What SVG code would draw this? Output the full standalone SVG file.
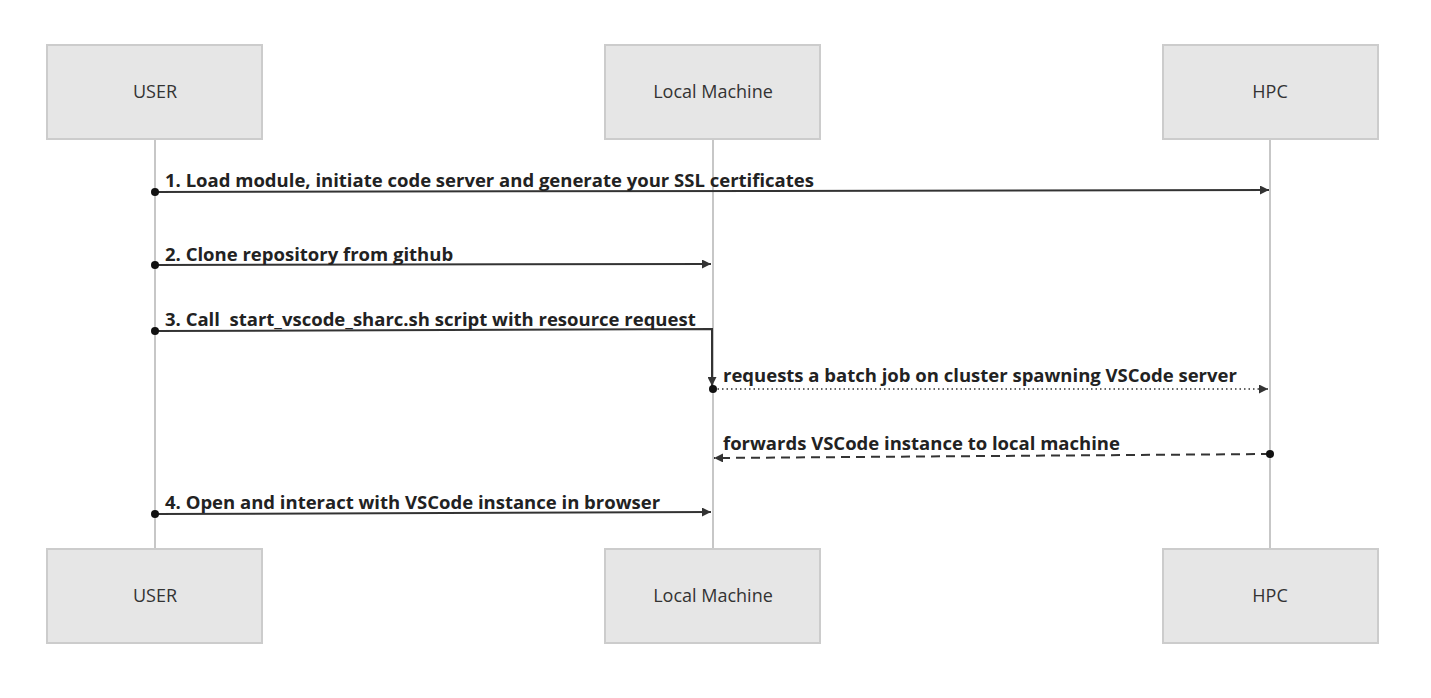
<svg xmlns="http://www.w3.org/2000/svg" width="1431" height="698" viewBox="0 0 1431 698">
<style>
.box{fill:#e6e6e6;stroke:#cccccc;stroke-width:2}
.bt{font-family:"Open Sans","Noto Sans",sans-serif;font-size:18px;fill:#333;text-anchor:middle}
.life{stroke:#8f8f8f;stroke-width:1;fill:none}
.msg{stroke:#333;stroke-width:2;fill:none}
.lbl{font-family:"Open Sans","Noto Sans",sans-serif;font-size:18.5px;font-weight:bold;fill:#222;white-space:pre}
</style>
<defs>
<marker id="arr1" viewBox="0 0 10 10" refX="10" refY="5" markerWidth="9" markerHeight="9" orient="auto" markerUnits="userSpaceOnUse"><path d="M0,0 L10,5 L0,10 z" fill="#333"/></marker>
<marker id="dot1" viewBox="0 0 10 10" refX="5" refY="5" markerWidth="8" markerHeight="8" markerUnits="userSpaceOnUse"><circle cx="5" cy="5" r="5" fill="#111"/></marker>
</defs>
<g id="lifelines">
<line class="life" x1="155" y1="139" x2="155" y2="549"/>
<line class="life" x1="713" y1="139" x2="713" y2="549"/>
<line class="life" x1="1270" y1="139" x2="1270" y2="549"/>
</g>
<g id="node-user-top"><rect class="box" x="47" y="45" width="215" height="94"/><text class="bt" x="155" y="98">USER</text></g>
<g id="node-local-top"><rect class="box" x="605" y="45" width="215" height="94"/><text class="bt" x="713" y="98">Local Machine</text></g>
<g id="node-hpc-top"><rect class="box" x="1163" y="45" width="215" height="94"/><text class="bt" x="1270" y="98">HPC</text></g>
<g id="node-user-bottom"><rect class="box" x="47" y="549" width="215" height="94"/><text class="bt" x="155" y="602">USER</text></g>
<g id="node-local-bottom"><rect class="box" x="605" y="549" width="215" height="94"/><text class="bt" x="713" y="602">Local Machine</text></g>
<g id="node-hpc-bottom"><rect class="box" x="1163" y="549" width="215" height="94"/><text class="bt" x="1270" y="602">HPC</text></g>
<g id="connectors">
<path class="msg" d="M155,192 L1269,190" marker-start="url(#dot1)" marker-end="url(#arr1)"/>
<text class="lbl" x="165" y="187">1. Load module, initiate code server and generate your SSL certificates</text>
<path class="msg" d="M155,265 L711,264" marker-start="url(#dot1)" marker-end="url(#arr1)"/>
<text class="lbl" x="165" y="261">2. Clone repository from github</text>
<path class="msg" d="M155,331 L712,329 L712,386" marker-start="url(#dot1)" marker-end="url(#arr1)"/>
<text class="lbl" x="165" y="326">3. Call  start_vscode_sharc.sh script with resource request</text>
<path class="msg" d="M713,389 L1268,389" stroke-dasharray="1.5 3" marker-start="url(#dot1)" marker-end="url(#arr1)" style="stroke-width:1.6"/>
<text class="lbl" x="723" y="382">requests a batch job on cluster spawning VSCode server</text>
<path class="msg" d="M1270,454 L714,458" stroke-dasharray="9 6" marker-start="url(#dot1)" marker-end="url(#arr1)"/>
<text class="lbl" x="723" y="450">forwards VSCode instance to local machine</text>
<path class="msg" d="M155,514 L711,512" marker-start="url(#dot1)" marker-end="url(#arr1)"/>
<text class="lbl" x="165" y="509">4. Open and interact with VSCode instance in browser</text>
</g>
</svg>
